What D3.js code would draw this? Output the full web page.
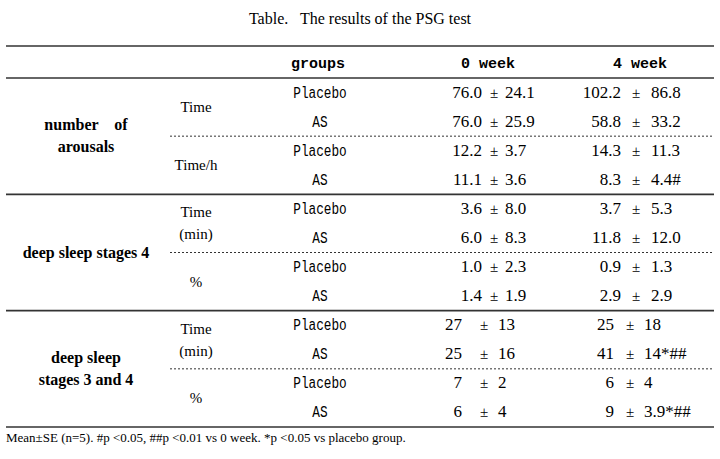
<!DOCTYPE html><html><head><meta charset="utf-8"><script src="https://cdn.jsdelivr.net/npm/d3@7"></script>
<style>body{margin:0;background:#fff}</style></head><body><svg id="c" width="720" height="459"></svg>
<script>
const title = "Table.   The results of the PSG test";
const headers = ["groups", "0 week", "4 week"];
const sections = ["number    of\narousals", "deep sleep stages 4", "deep sleep\nstages 3 and 4"];
const measures = [["Time", "Time/h"], ["Time\n(min)", "%"], ["Time\n(min)", "%"]];
const groups = ["Placebo", "AS"];
const week0 = [
  [["76.0","24.1"],["76.0","25.9"],["12.2","3.7"],["11.1","3.6"]],
  [["3.6","8.0"],["6.0","8.3"],["1.0","2.3"],["1.4","1.9"]],
  [["27","13"],["25","16"],["7","2"],["6","4"]]];
const week4 = [
  [["102.2","86.8"],["58.8","33.2"],["14.3","11.3"],["8.3","4.4#"]],
  [["3.7","5.3"],["11.8","12.0"],["0.9","1.3"],["2.9","2.9"]],
  [["25","18"],["41","14*##"],["6","4"],["9","3.9*##"]]];
const footnote = "Mean±SE (n=5). #p <0.05, ##p <0.01 vs 0 week. *p <0.05 vs placebo group.";

const svg = d3.select("#c");
const serif = "'Liberation Serif','Times New Roman',serif";
const mono = "'Liberation Mono','DejaVu Sans Mono',monospace";
const y = d3.scaleLinear().domain([0, 12]).range([78, 427]);
const rowY = (s, r) => y(s * 4) + (r + 0.5) * (y(4) - y(0)) / 4;
svg.append("text").attr("x", 360).attr("y", 24).attr("text-anchor", "middle")
  .attr("font-family", serif).attr("font-size", 16).attr("xml:space","preserve").text(title);
const hline = (yy, w, dash, x1) => svg.append("line").attr("x1", x1 || 6).attr("x2", 714).attr("y1", yy).attr("y2", yy)
  .attr("stroke", "#333").attr("stroke-width", w).attr("stroke-dasharray", dash || null);
hline(46, 1.6); hline(y(0), 1.6);
const hx = [318, 488, 640];
headers.forEach((h, i) => svg.append("text").attr("x", hx[i]).attr("y", 68).attr("text-anchor", "middle")
  .attr("font-family", mono).attr("font-weight", "bold").attr("font-size", 15).attr("xml:space","preserve").text(h));
function multi(x, cy, txt, opts) {
  const lines = txt.split("\n"), lh = 22;
  lines.forEach((l, i) => svg.append("text").attr("x", x).attr("y", cy + (i - (lines.length - 1) / 2) * lh + 5)
    .attr("text-anchor", "middle").attr("font-family", serif).attr("font-size", opts.size)
    .attr("font-weight", opts.bold ? "bold" : "normal").attr("xml:space","preserve").text(l));
}
// column anchors: [mean right edge, ± centre, sd left edge] for decimal / integer values
const anchors = [{dec: [482, 494, 505], int: [462, 484, 498]}, {dec: [621, 636, 651], int: [614, 630, 644]}];
sections.forEach((sec, s) => {
  const top = y(s * 4), bot = y(s * 4 + 4), mid = (top + bot) / 2;
  multi(86, mid, sec, {size: 16, bold: true});
  hline(mid, 1, "2,2", 170);
  hline(bot, 1.6);
  measures[s].forEach((m, k) => multi(196, (k ? (mid + bot) / 2 : (top + mid) / 2), m, {size: 15}));
  for (let r = 0; r < 4; r++) {
    const cy = rowY(s, r) + 5;
    svg.append("text").attr("x", 320).attr("y", cy).attr("text-anchor", "middle").attr("font-family", mono)
      .attr("font-size", 15).attr("transform-origin", `320 ${cy}`).attr("transform", "scale(0.85,1.15)").text(groups[r % 2]);
    [week0, week4].forEach((d, c) => {
      const v = d[s][r];
      const a = v[0].includes(".") ? anchors[c].dec : anchors[c].int;
      svg.append("text").attr("x", a[0]).attr("y", cy).attr("text-anchor", "end").attr("font-family", serif).attr("font-size", 17).text(v[0]);
      svg.append("text").attr("x", a[1]).attr("y", cy).attr("text-anchor", "middle").attr("font-family", serif).attr("font-size", 15).text("±");
      svg.append("text").attr("x", a[2]).attr("y", cy).attr("font-family", serif).attr("font-size", 17).text(v[1]);
    });
  }
});
svg.append("text").attr("x", 6).attr("y", 442).attr("font-family", serif).attr("font-size", 13).text(footnote);
</script></body></html>
